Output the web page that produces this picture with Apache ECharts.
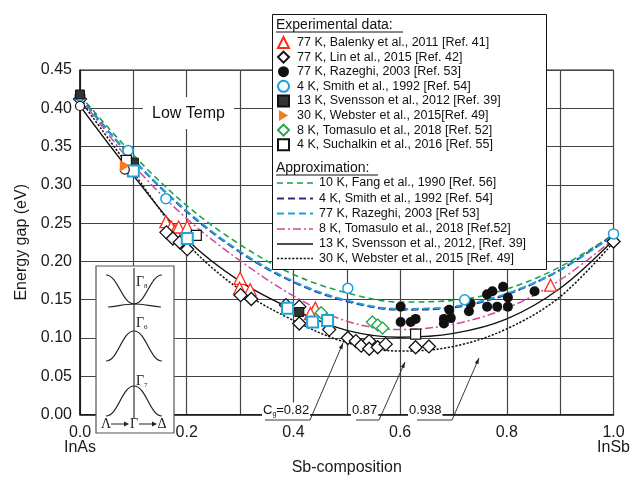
<!DOCTYPE html>
<html><head><meta charset="utf-8">
<script src="https://cdn.jsdelivr.net/npm/echarts@6/dist/echarts.min.js"></script>
<style>html,body{margin:0;padding:0;background:#fff}#c{width:633px;height:481px}</style>
</head><body><div id="c"></div>
<script>
// ---- data ----
const compositions = [0, 0.1, 0.2, 0.3, 0.4, 0.5, 0.6, 0.7, 0.8, 0.9, 1.0];
const fangEg     = [0.417, 0.339, 0.273, 0.222, 0.183, 0.159, 0.147, 0.149, 0.164, 0.193, 0.235];
const smithEg    = [0.415, 0.333, 0.265, 0.212, 0.173, 0.148, 0.137, 0.140, 0.157, 0.189, 0.235];
const razeghiEg  = [0.414, 0.333, 0.266, 0.213, 0.174, 0.149, 0.138, 0.141, 0.158, 0.189, 0.234];
const tomasuloEg = [0.414, 0.326, 0.256, 0.201, 0.155, 0.122, 0.111, 0.118, 0.139, 0.176, 0.229];
const svenssonEg = [0.403, 0.312, 0.229, 0.174, 0.137, 0.110, 0.101, 0.106, 0.125, 0.165, 0.228];
const websterEg  = [0.411, 0.316, 0.224, 0.163, 0.123, 0.094, 0.083, 0.089, 0.112, 0.154, 0.225];

const balenkyPts = [[0.161,0.252],[0.171,0.245],[0.178,0.240],[0.185,0.245],[0.201,0.245],[0.300,0.178],[0.299,0.165],[0.319,0.163],[0.441,0.139],[0.432,0.132],[0.882,0.169]];
const linPts = [[0.0,0.412],[0.162,0.238],[0.174,0.230],[0.187,0.225],[0.201,0.216],[0.301,0.156],[0.321,0.151],[0.386,0.143],[0.411,0.141],[0.411,0.119],[0.467,0.111],[0.502,0.100],[0.517,0.096],[0.527,0.090],[0.542,0.096],[0.542,0.086],[0.558,0.088],[0.573,0.092],[0.629,0.088],[0.654,0.089],[1.0,0.226]];
const razeghiPts = [[0.601,0.141],[0.601,0.121],[0.620,0.121],[0.629,0.125],[0.682,0.125],[0.682,0.119],[0.692,0.137],[0.695,0.126],[0.729,0.135],[0.732,0.145],[0.763,0.157],[0.773,0.161],[0.763,0.141],[0.782,0.141],[0.793,0.167],[0.802,0.153],[0.802,0.141],[0.852,0.161]];
const smithPts = [[0.0,0.416],[0.090,0.345],[0.161,0.282],[0.502,0.165],[0.721,0.150],[1.0,0.236]];
const svenssonPts = [[0.0,0.418],[0.101,0.329],[0.411,0.134]];
const websterPts = [[0.084,0.325]];
const tomasuloPts = [[0.452,0.133],[0.548,0.121],[0.558,0.117],[0.567,0.113]];
const suchalkinPts = [[0.087,0.332],[0.218,0.234],[0.629,0.105]];
const cyanSquarePts = [[0.100,0.318],[0.201,0.230],[0.389,0.139],[0.436,0.121],[0.464,0.123]];
const openCirclePts = [[0.0,0.403],[0.084,0.320]];

const expNames = ['77 K, Balenky et al., 2011 [Ref. 41]','77 K, Lin et al., 2015 [Ref. 42]','77 K, Razeghi, 2003 [Ref. 53]','4 K, Smith et al., 1992 [Ref. 54]','13 K, Svensson et al., 2012 [Ref. 39]','30 K, Webster et al., 2015[Ref. 49]','8 K, Tomasulo et al., 2018 [Ref. 52]','4 K, Suchalkin et al., 2016 [Ref. 55]'];
const apxNames = ['10 K, Fang et al., 1990 [Ref. 56]','4 K, Smith et al., 1992 [Ref. 54]','77 K, Razeghi, 2003 [Ref 53]','8 K, Tomasulo et al., 2018 [Ref.52]','13 K, Svensson et al., 2012, [Ref. 39]','30 K, Webster et al., 2015 [Ref. 49]'];

const pair = arr => compositions.map((x,i)=>[x, arr[i]]);
const FONT = 'Liberation Sans, Arial, sans-serif';

const apxStyles = [
  {color:'#1aa34a', width:1.6, dash:[6,4]},
  {color:'#2b2a8c', width:2, dash:[7,4]},
  {color:'#1fa3dc', width:2, dash:[7,4]},
  {color:'#cc4a98', width:1.5, dash:[8,3,2,3]},
  {color:'#111', width:1.3, dash:null},
  {color:'#111', width:1.5, dash:[2.2,1.6]}
];
const apxData = [fangEg, smithEg, razeghiEg, tomasuloEg, svenssonEg, websterEg];

function lineS(idx){
  const s = apxStyles[idx];
  return {type:'line', name: 'apx'+idx, data: pair(apxData[idx]), smooth: 0.35, symbol:'none', z:2,
    lineStyle:{color:s.color, width:s.width, type:s.dash||'solid'}, itemStyle:{color:s.color}};
}
function scat(name, pts, symbol, size, fill, border, bw, z){
  return {type:'scatter', name, data: pts, symbol, symbolSize:size, z:z||4,
    itemStyle:{color:fill, borderColor:border, borderWidth:bw, opacity:1}};
}

const series = [
  lineS(0), lineS(1), lineS(2), lineS(3), lineS(4), lineS(5),
  scat(expNames[0], balenkyPts, 'triangle', 12, '#fff', '#ff2a1a', 1.3),
  scat(expNames[1], linPts, 'diamond', 13, '#fff', '#111', 1.3),
  scat(expNames[2], razeghiPts, 'circle', 10, '#111', '#111', 0),
  scat(expNames[3], smithPts, 'circle', 10, '#fff', '#1aa0dc', 1.5),
  scat(expNames[4], svenssonPts, 'rect', 9, '#333', '#111', 1),
  scat(expNames[5], websterPts, 'path://M0,0L10,6L0,12Z', [10,12], '#f47b20', '#f47b20', 0, 6),
  scat(expNames[6], tomasuloPts, 'diamond', 12, '#fff', '#1fa64a', 1.3),
  scat(expNames[7], suchalkinPts, 'rect', 10, '#fff', '#111', 1.2),
  scat('cyanSquares', cyanSquarePts, 'rect', 11, '#fff', '#1fa3dc', 2),
  scat('openCircles', openCirclePts, 'circle', 9, '#fff', '#111', 1.2)
];

// ---- graphic decorations ----
const G = [];
// legend box
G.push({type:'rect', z:10, shape:{x:272.5, y:14.5, width:274, height:255}, style:{fill:'#fff', stroke:'#111', lineWidth:1}});
G.push({type:'text', z:12, style:{x:276, y:25, text:'Experimental data:', font:'14px '+FONT, fill:'#111', verticalAlign:'middle'}});
G.push({type:'line', z:12, shape:{x1:276, y1:32, x2:403, y2:32}, style:{stroke:'#111', lineWidth:1}});
G.push({type:'text', z:12, style:{x:276, y:168, text:'Approximation:', font:'14px '+FONT, fill:'#111', verticalAlign:'middle'}});
G.push({type:'line', z:12, shape:{x1:276, y1:175, x2:378, y2:175}, style:{stroke:'#111', lineWidth:1}});
// approximation legend rows
const apxRowY = [183, 198.5, 213.5, 229, 244, 258.5];
apxNames.forEach((n,i)=>{
  const s = apxStyles[i];
  G.push({type:'line', z:12, shape:{x1:277, y1:apxRowY[i], x2:313, y2:apxRowY[i]}, style:{stroke:s.color, lineWidth:s.width, lineDash:s.dash||null}});
  G.push({type:'text', z:12, style:{x:319, y:apxRowY[i], text:n, font:'12.5px '+FONT, fill:'#111', verticalAlign:'middle'}});
});
// Low Temp label
G.push({type:'text', z:10, style:{x:143, y:97, text:'Low Temp', font:'16px '+FONT, fill:'#111', backgroundColor:'#fff', padding:[9,9,7,9]}});
// inset
const ins = '#222';
G.push({type:'rect', z:10, shape:{x:96, y:266, width:78, height:167}, style:{fill:'#fff', stroke:'#555', lineWidth:1.2}});
G.push({type:'line', z:11, shape:{x1:134, y1:268, x2:134, y2:418}, style:{stroke:ins, lineWidth:1.1}});
function bell(yb, yt){
  G.push({type:'bezierCurve', z:11, shape:{x1:106,y1:yb,cpx1:118,cpy1:yb,cpx2:122,cpy2:yt,x2:134,y2:yt}, style:{stroke:ins, lineWidth:1.2, fill:null}});
  G.push({type:'bezierCurve', z:11, shape:{x1:134,y1:yt,cpx1:146,cpy1:yt,cpx2:150,cpy2:yb,x2:162,y2:yb}, style:{stroke:ins, lineWidth:1.2, fill:null}});
}
bell(275, 304);
G.push({type:'bezierCurve', z:11, shape:{x1:108,y1:307,cpx1:118,cpy1:306,cpx2:126,cpy2:304,x2:134,y2:304}, style:{stroke:ins, lineWidth:1.2, fill:null}});
G.push({type:'bezierCurve', z:11, shape:{x1:134,y1:304,cpx1:142,cpy1:304,cpx2:150,cpy2:306,x2:161,y2:307}, style:{stroke:ins, lineWidth:1.2, fill:null}});
bell(361, 331);
bell(416, 386);
function gam(y, sub){
  G.push({type:'text', z:12, style:{x:136, y:y, text:'{g|Γ}{s|'+sub+'}', verticalAlign:'middle',
    rich:{g:{font:'14px Liberation Serif, serif', fill:'#222'}, s:{font:'7px Liberation Serif, serif', fill:'#222', padding:[8,0,0,0]}}}});
}
gam(282,'8'); gam(323,'6'); gam(381,'7');
const sym = (t,x)=>G.push({type:'text', z:12, style:{x:x, y:424, text:t, font:'14px Liberation Serif, serif', fill:'#222', align:'center', verticalAlign:'middle'}});
sym('Λ',106); sym('Γ',134); sym('Δ',162);
function arrowH(x1,x2,y){
  G.push({type:'line', z:12, shape:{x1:x1,y1:y,x2:x2-4,y2:y}, style:{stroke:'#222', lineWidth:1}});
  G.push({type:'polygon', z:12, shape:{points:[[x2,y],[x2-5,y-2.5],[x2-5,y+2.5]]}, style:{fill:'#222'}});
}
arrowH(111,129,424); arrowH(139,157,424);
// annotations
function annot(text, tx, ux1, ux2, ax, ay, rich){
  G.push({type:'text', z:10, style:Object.assign({x:tx, y:410, text:text, font:'13px '+FONT, fill:'#111', verticalAlign:'middle', backgroundColor:'#fff', padding:[1,1,0,1]}, rich||{})});
  G.push({type:'polyline', z:10, shape:{points:[[ux1,420],[ux2,420],[ax,ay]]}, style:{stroke:'#222', lineWidth:0.9, fill:null}});
  const dx = ax-ux2, dy = ay-420, L = Math.hypot(dx,dy), ux = dx/L, uy = dy/L;
  const bx = ax-ux*6, by = ay-uy*6;
  G.push({type:'polygon', z:10, shape:{points:[[ax,ay],[bx-uy*2,by+ux*2],[bx+uy*2,by-ux*2]]}, style:{fill:'#222'}});
}
annot('{a|C}{b|g}{a|=0.82}', 262, 265, 310, 343, 343, {rich:{a:{font:'13px '+FONT, fill:'#111'}, b:{font:'7px '+FONT, fill:'#111', padding:[7,0,0,0]}}});
annot('0.87', 351, 356, 379, 405, 362);
annot('0.938', 408, 417, 452, 479, 358);

const option = {
  animation:false,
  backgroundColor:'#fff',
  grid:{left:80, right:18, top:70, bottom:40, show:true, borderColor:'#222', borderWidth:1, backgroundColor:'transparent'},
  xAxis:{type:'value', min:0, max:1, interval:0.1,
    name:'Sb-composition', nameLocation:'middle', nameGap:28, nameTextStyle:{fontSize:16, fontFamily:FONT, color:'#1a1a1a'},
    axisLine:{lineStyle:{color:'#111', width:1.5}}, axisTick:{show:false},
    axisLabel:{margin:10, fontSize:16, lineHeight:15, fontFamily:FONT, color:'#1a1a1a',
      formatter:v=>{const k=Math.round(v*10); if(k===0) return '0.0\nInAs'; if(k===10) return '1.0\nInSb'; return k%2===0?(k/10).toFixed(1):'';}},
    splitLine:{show:true, lineStyle:{color:'#444', width:1.2}}},
  yAxis:{type:'value', min:0, max:0.45, interval:0.05,
    name:'Energy gap (eV)', nameLocation:'middle', nameGap:50, nameTextStyle:{fontSize:16, fontFamily:FONT, color:'#1a1a1a'},
    axisLine:{show:true, lineStyle:{color:'#111', width:1.5}}, axisTick:{show:false},
    axisLabel:{margin:8, fontSize:16, fontFamily:FONT, color:'#1a1a1a', formatter:v=>v.toFixed(2)},
    splitLine:{show:true, lineStyle:{color:'#444', width:1.2}}},
  legend:[
    {data:expNames, orient:'vertical', left:277, top:36, padding:0, itemWidth:11, itemHeight:11, itemGap:1.6, selectedMode:false, z:20,
      textStyle:{fontSize:12.5, fontFamily:FONT, color:'#111', lineHeight:13, padding:[0,0,0,3]}}
  ],
  graphic:G,
  series
};
const chart = echarts.init(document.getElementById('c'), null, {renderer:'canvas'});
chart.setOption(option);
</script></body></html>
